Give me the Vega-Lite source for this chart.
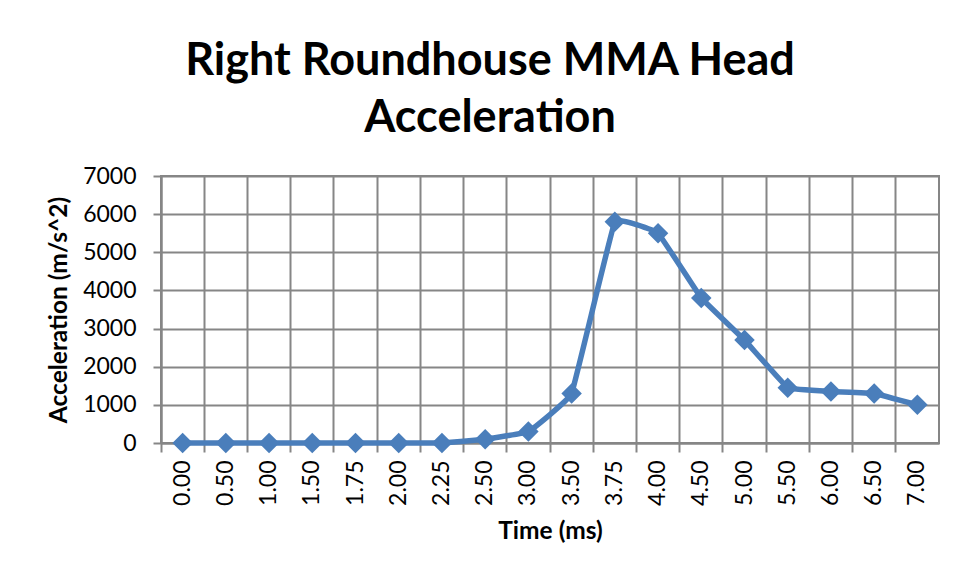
{
  "$schema": "https://vega.github.io/schema/vega-lite/v6.json",
  "width": 778,
  "height": 267,
  "autosize": {"type": "none"},
  "padding": {"left": 161, "top": 176, "right": 17, "bottom": 135},
  "background": "white",
  "config": {
    "font": "Lato",
    "view": {"stroke": "#868686", "strokeWidth": 2},
    "axis": {
      "gridColor": "#868686",
      "gridWidth": 2,
      "gridOpacity": 1,
      "tickColor": "#868686",
      "tickWidth": 2,
      "domainColor": "#868686",
      "domainWidth": 2,
      "labelColor": "#000000",
      "titleColor": "#000000",
      "labelFont": "Lato",
      "titleFont": "Lato",
      "labelFontSize": 23,
      "titleFontSize": 24.5,
      "titleFontWeight": "bold"
    }
  },
  "title": {
    "text": ["Right Roundhouse MMA Head", "Acceleration"],
    "font": "Lato",
    "fontSize": 45,
    "fontWeight": "bold",
    "color": "#000000",
    "anchor": "middle",
    "dx": -60,
    "lineHeight": 57,
    "offset": 24
  },
  "data": {
    "values": [
      {"time": "0.00", "acc": 0},
      {"time": "0.50", "acc": 0},
      {"time": "1.00", "acc": 0},
      {"time": "1.50", "acc": 0},
      {"time": "1.75", "acc": 0},
      {"time": "2.00", "acc": 0},
      {"time": "2.25", "acc": 0},
      {"time": "2.50", "acc": 100},
      {"time": "3.00", "acc": 300},
      {"time": "3.50", "acc": 1300},
      {"time": "3.75", "acc": 5800},
      {"time": "4.00", "acc": 5500},
      {"time": "4.50", "acc": 3800},
      {"time": "5.00", "acc": 2700},
      {"time": "5.50", "acc": 1450},
      {"time": "6.00", "acc": 1350},
      {"time": "6.50", "acc": 1300},
      {"time": "7.00", "acc": 1000}
    ]
  },
  "encoding": {
    "x": {
      "field": "time",
      "type": "ordinal",
      "sort": null,
      "scale": {"type": "band", "paddingInner": 0, "paddingOuter": 0},
      "axis": {
        "title": "Time (ms)",
        "labelAngle": 270,
        "bandPosition": 0,
        "tickSize": 9,
        "labelPadding": 8,
        "titlePadding": 14,
        "grid": true
      }
    },
    "y": {
      "field": "acc",
      "type": "quantitative",
      "scale": {"domain": [0, 7000], "nice": false},
      "axis": {
        "title": "Acceleration (m/s^2)",
        "values": [0, 1000, 2000, 3000, 4000, 5000, 6000, 7000],
        "format": "d",
        "tickSize": 8,
        "labelPadding": 17,
        "titlePadding": 11,
        "grid": true
      }
    }
  },
  "layer": [
    {
      "mark": {"type": "line", "color": "#4A7EBB", "strokeWidth": 5.5, "interpolate": "cardinal", "tension": 0.8}
    },
    {
      "mark": {"type": "point", "shape": "diamond", "filled": true, "color": "#4A7EBB", "size": 420, "opacity": 1}
    }
  ]
}
